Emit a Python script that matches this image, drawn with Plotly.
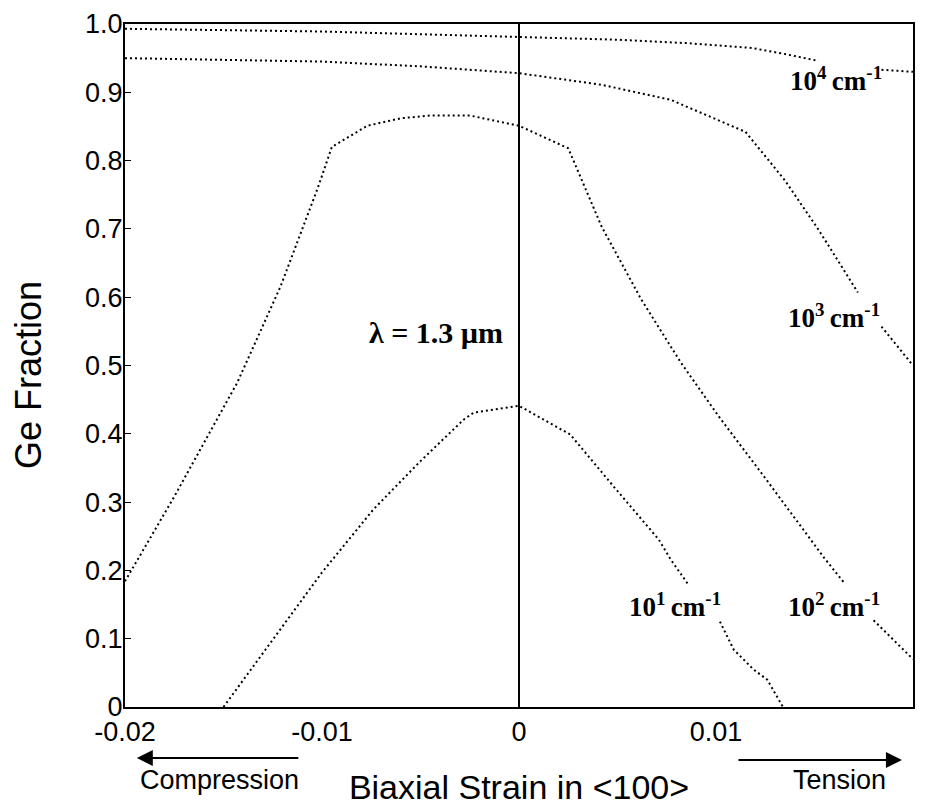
import plotly.graph_objects as go

# ---- data ----
x_1e4 = [-0.02, -0.015, -0.01, -0.005, 0.0, 0.005, 0.0085, 0.0118, 0.0135, 0.0152, None, 0.0184, 0.02]
y_1e4 = [0.993, 0.991, 0.989, 0.985, 0.981, 0.977, 0.972, 0.965, 0.956, 0.946, None, 0.933, 0.930]

x_1e3 = [-0.02, -0.015, -0.01, -0.005, 0.0, 0.0042, 0.0077, 0.0115, 0.0135, 0.0152, 0.0172, None, 0.0184, 0.02]
y_1e3 = [0.950, 0.948, 0.945, 0.938, 0.928, 0.911, 0.889, 0.842, 0.771, 0.699, 0.607, None, 0.557, 0.500]

x_1e2 = [-0.02, -0.0175, -0.0143, -0.0127, -0.0121, -0.0102, -0.0095, -0.0077, -0.006, -0.0045,
         -0.0025, 0.0, 0.0025, 0.0042, 0.0062, 0.0082, 0.0101, 0.0125, 0.0155, 0.0165, None, 0.018, 0.02]
y_1e2 = [0.184, 0.308, 0.475, 0.578, 0.616, 0.761, 0.820, 0.851, 0.862, 0.866,
         0.866, 0.851, 0.818, 0.703, 0.597, 0.505, 0.427, 0.335, 0.218, 0.182, None, 0.127, 0.070]

x_1e1 = [-0.015, -0.0124, -0.01, -0.0074, -0.005, -0.0028, -0.0023, 0.0, 0.0026, 0.0048, 0.0071,
         0.0077, 0.0086, None, 0.0102, 0.0109, 0.0119, 0.0126, 0.0134]
y_1e1 = [0.0, 0.103, 0.197, 0.289, 0.360, 0.421, 0.431, 0.441, 0.399, 0.323, 0.245,
         0.216, 0.179, None, 0.125, 0.084, 0.055, 0.040, 0.0]

x_ticks = [-0.02, -0.01, 0.0, 0.01, 0.02]
x_tick_text = ["-0.02", "-0.01", "0", "0.01", "0.02"]
y_ticks = [0.0, 0.1, 0.2, 0.3, 0.4, 0.5, 0.6, 0.7, 0.8, 0.9, 1.0]
y_tick_text = ["0", "0.1", "0.2", "0.3", "0.4", "0.5", "0.6", "0.7", "0.8", "0.9", "1.0"]

curve_labels = [
    ("10<sup>1</sup>\u2009cm<sup>-1</sup>", 0.0079, 0.150),
    ("10<sup>2</sup>\u2009cm<sup>-1</sup>", 0.0160, 0.150),
    ("10<sup>3</sup>\u2009cm<sup>-1</sup>", 0.0160, 0.572),
    ("10<sup>4</sup>\u2009cm<sup>-1</sup>", 0.0161, 0.919),
]

fig = go.Figure()
line_style = dict(color="black", width=2, dash="2px,3px")
for xs, ys, name in [(x_1e4, y_1e4, "1e4"), (x_1e3, y_1e3, "1e3"),
                     (x_1e2, y_1e2, "1e2"), (x_1e1, y_1e1, "1e1")]:
    fig.add_trace(go.Scatter(x=xs, y=ys, mode="lines", line=line_style,
                             name=name, showlegend=False, connectgaps=False))

serif = dict(family="Liberation Serif", size=27, color="black", weight="bold")
for txt, lx, ly in curve_labels:
    fig.add_annotation(x=lx, y=ly, xref="x", yref="y", text=txt, showarrow=False, font=serif)

fig.add_annotation(x=-0.0042, y=0.548, xref="x", yref="y", text="λ = 1.3 µm", showarrow=False,
                   font=dict(family="Liberation Serif", size=30, color="black", weight="bold"))

sans = "Liberation Sans"
# y-axis title placed as rotated text
fig.add_annotation(x=-0.1231, y=0.486, xref="paper", yref="paper", text="Ge Fraction",
                   textangle=-90, xanchor="center", yanchor="middle", showarrow=False,
                   font=dict(family=sans, size=36, color="black"))
# direction arrows and labels (paper coords, tail offset in pixels)
fig.add_annotation(x=0.015, y=-0.0747, xref="paper", yref="paper",
                   ax=163, ay=0, axref="pixel", ayref="pixel", text="", showarrow=True,
                   arrowhead=2, arrowsize=1.6, arrowwidth=2, arrowcolor="black")
fig.add_annotation(x=0.986, y=-0.0776, xref="paper", yref="paper",
                   ax=-165, ay=0, axref="pixel", ayref="pixel", text="", showarrow=True,
                   arrowhead=2, arrowsize=1.6, arrowwidth=2, arrowcolor="black")
fig.add_annotation(x=0.120, y=-0.107, xref="paper", yref="paper", text="Compression",
                   xanchor="center", yanchor="middle",
                   showarrow=False, font=dict(family=sans, size=27, color="black"))
fig.add_annotation(x=0.907, y=-0.107, xref="paper", yref="paper", text="Tension",
                   xanchor="center", yanchor="middle",
                   showarrow=False, font=dict(family=sans, size=27, color="black"))

fig.update_layout(
    width=928, height=798,
    margin=dict(l=117, r=23, t=16, b=99),
    paper_bgcolor="white", plot_bgcolor="white",
    xaxis=dict(range=[-0.02, 0.02], tickvals=x_ticks, ticktext=x_tick_text,
               automargin=False,
               showgrid=False, zeroline=True, zerolinecolor="black", zerolinewidth=2,
               showline=True, linecolor="black", linewidth=2, mirror=True,
               ticks="", tickfont=dict(family=sans, size=27, color="black"),
               title=dict(text="Biaxial Strain in <100>", font=dict(family=sans, size=34, color="black"),
                          standoff=31)),
    yaxis=dict(range=[0, 1.0], tickvals=y_ticks, ticktext=y_tick_text,
               automargin=False,
               showgrid=False, zeroline=False,
               showline=True, linecolor="black", linewidth=2, mirror=True,
               ticks="inside", ticklen=6, tickwidth=1, tickcolor="black",
               ticklabelstandoff=-5,
               tickfont=dict(family=sans, size=27, color="black")),
)

fig.write_html("out.html")
